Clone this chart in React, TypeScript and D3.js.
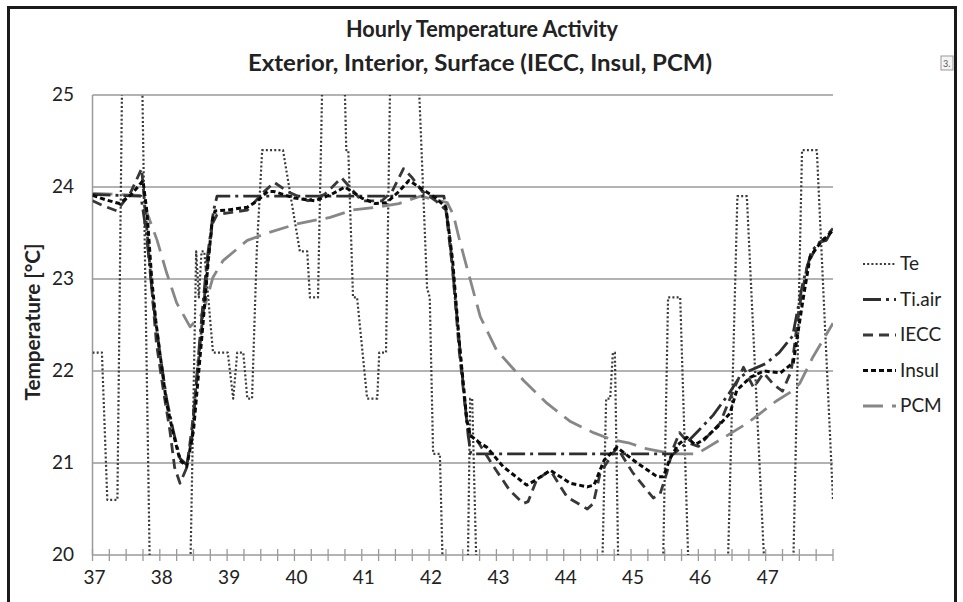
import React from 'react';
import * as d3 from 'd3';

// series names in legend order
const categories = ['Te', 'Ti.air', 'IECC', 'Insul', 'PCM'];
const xTickLabels = [37, 38, 39, 40, 41, 42, 43, 44, 45, 46, 47];
const yTickLabels = [20, 21, 22, 23, 24, 25];

// [day, temperature °C] (Te runs off the plot, clipped)
const te: [number, number][] = [
  [37.0, 22.2], [37.14, 22.2], [37.22, 20.6], [37.37, 20.6], [37.46, 26.5],
  [37.71, 26.5], [37.88, 18.5], [38.42, 18.5], [38.54, 23.3], [38.58, 22.8],
  [38.62, 23.3], [38.66, 23.3], [38.79, 22.2], [39.01, 22.2], [39.09, 21.7],
  [39.15, 22.2], [39.24, 22.2], [39.3, 21.7], [39.37, 21.7], [39.44, 23.3],
  [39.52, 24.4], [39.83, 24.4], [40.08, 23.3], [40.19, 23.3], [40.23, 22.8],
  [40.35, 22.8], [40.45, 26.5], [40.7, 26.5], [40.77, 24.4], [40.8, 24.4],
  [40.87, 22.8], [40.93, 22.8], [41.08, 21.7], [41.23, 21.7], [41.26, 22.2],
  [41.36, 22.2], [41.45, 26.5], [41.8, 26.0], [41.97, 22.9], [42.01, 22.8],
  [42.06, 21.1], [42.16, 21.1], [42.25, 18.5], [42.55, 18.5], [42.61, 21.7],
  [42.64, 21.7], [42.75, 18.5], [44.53, 18.5], [44.63, 21.7], [44.69, 21.7],
  [44.73, 22.2], [44.76, 22.2], [44.84, 18.5], [45.44, 18.5], [45.55, 22.8],
  [45.73, 22.8], [45.91, 18.5], [46.39, 18.5], [46.58, 23.9], [46.72, 23.9],
  [47.07, 18.5], [47.37, 18.5], [47.54, 24.4], [47.76, 24.4], [48.0, 20.6],
];

const tiAir: [number, number][] = [
  [37.0, 23.92], [37.72, 23.9], [37.8, 23.5], [37.9, 22.75], [38.0, 22.2],
  [38.1, 21.7], [38.2, 21.35], [38.3, 21.05], [38.4, 20.98], [38.48, 21.3],
  [38.6, 22.4], [38.7, 23.2], [38.8, 23.75], [38.85, 23.9], [42.22, 23.9],
  [42.3, 23.5], [42.4, 22.7], [42.5, 21.9], [42.58, 21.3], [42.62, 21.1],
  [45.63, 21.1], [45.8, 21.2], [46.0, 21.35], [46.22, 21.52], [46.45, 21.75],
  [46.6, 21.92], [46.75, 22.0], [47.0, 22.08], [47.2, 22.2], [47.4, 22.38],
  [47.55, 22.95], [47.68, 23.3], [47.8, 23.4], [47.9, 23.42], [48.0, 23.55],
];

const iecc: [number, number][] = [
  [37.0, 23.85], [37.15, 23.8], [37.36, 23.74], [37.56, 23.93], [37.73, 24.2],
  [37.8, 23.6], [37.88, 22.9], [37.95, 22.3], [38.05, 21.8], [38.15, 21.35],
  [38.22, 20.95], [38.3, 20.78], [38.4, 20.95], [38.48, 21.4], [38.6, 22.3],
  [38.7, 23.1], [38.78, 23.6], [38.85, 23.7], [39.3, 23.75], [39.55, 23.95],
  [39.7, 24.05], [39.9, 23.95], [40.2, 23.85], [40.45, 23.92], [40.7, 24.1],
  [41.0, 23.85], [41.3, 23.85], [41.45, 23.95], [41.62, 24.2], [41.75, 24.1],
  [41.9, 23.95], [42.1, 23.85], [42.25, 23.75], [42.35, 23.1], [42.45, 22.2],
  [42.56, 21.45], [42.61, 21.3], [42.71, 21.25], [42.96, 20.96], [43.2, 20.7],
  [43.4, 20.56], [43.47, 20.58], [43.6, 20.82], [43.8, 20.92], [44.05, 20.63],
  [44.35, 20.5], [44.44, 20.56], [44.54, 20.89], [44.79, 21.17], [45.03, 20.89],
  [45.33, 20.62], [45.43, 20.66], [45.53, 20.89], [45.62, 21.15], [45.72, 21.33],
  [45.85, 21.22], [46.0, 21.18], [46.15, 21.3], [46.32, 21.43], [46.52, 21.79],
  [46.67, 22.04], [46.82, 21.82], [46.97, 21.98], [47.12, 21.85], [47.25, 21.78],
  [47.38, 22.0], [47.5, 22.7], [47.62, 23.15], [47.75, 23.35], [47.88, 23.45],
  [48.0, 23.55],
];

const insul: [number, number][] = [
  [37.0, 23.91], [37.2, 23.86], [37.4, 23.82], [37.58, 23.92], [37.75, 24.07],
  [37.81, 23.72], [37.88, 23.0], [37.94, 22.55], [38.0, 22.2], [38.1, 21.65],
  [38.2, 21.32], [38.3, 21.03], [38.4, 20.96], [38.5, 21.35], [38.64, 22.5],
  [38.72, 23.2], [38.78, 23.64], [38.82, 23.74], [39.0, 23.75], [39.3, 23.78],
  [39.45, 23.85], [39.6, 23.95], [39.7, 23.95], [40.0, 23.88], [40.3, 23.85],
  [40.55, 23.92], [40.75, 24.0], [41.0, 23.88], [41.2, 23.82], [41.37, 23.83],
  [41.55, 23.95], [41.7, 24.07], [41.85, 24.0], [42.1, 23.88], [42.25, 23.78],
  [42.35, 23.2], [42.45, 22.3], [42.56, 21.47], [42.61, 21.3], [42.75, 21.22],
  [42.86, 21.17], [43.1, 20.96], [43.45, 20.76], [43.55, 20.8], [43.8, 20.92],
  [44.1, 20.78], [44.35, 20.74], [44.45, 20.76], [44.6, 21.03], [44.79, 21.17],
  [45.09, 21.0], [45.39, 20.85], [45.48, 20.85], [45.58, 21.05], [45.7, 21.2],
  [45.83, 21.28], [45.95, 21.2], [46.07, 21.25], [46.28, 21.39], [46.47, 21.54],
  [46.57, 21.79], [46.77, 21.93], [46.97, 22.0], [47.22, 21.98], [47.41, 22.09],
  [47.56, 22.8], [47.66, 23.24], [47.81, 23.39], [48.0, 23.53],
];

const pcm: [number, number][] = [
  [37.0, 23.93], [37.7, 23.91], [37.81, 23.72], [37.96, 23.42], [38.1, 23.07],
  [38.25, 22.74], [38.45, 22.48], [38.64, 22.63], [38.79, 23.02], [38.94, 23.2],
  [39.3, 23.42], [39.6, 23.5], [40.04, 23.6], [40.53, 23.67], [40.87, 23.75],
  [41.22, 23.78], [41.55, 23.82], [41.87, 23.9], [42.27, 23.83], [42.36, 23.7],
  [42.46, 23.4], [42.56, 23.13], [42.76, 22.59], [43.0, 22.23], [43.4, 21.9],
  [43.75, 21.65], [44.1, 21.45], [44.44, 21.33], [44.73, 21.25], [44.96, 21.22],
  [45.2, 21.16], [45.47, 21.12], [45.6, 21.1], [45.98, 21.1], [46.32, 21.25],
  [46.72, 21.43], [47.17, 21.68], [47.41, 21.79], [47.51, 21.87], [47.7, 22.15],
  [48.0, 22.52],
];

const seriesData = [te, tiAir, iecc, insul, pcm];

const styles = [
  { color: '#3a3a3a', width: 2.2, dash: '2 2.2' },
  { color: '#2e2e2e', width: 2.8, dash: '18 5 3 5' },
  { color: '#383838', width: 2.8, dash: '10 6' },
  { color: '#0a0a0a', width: 3, dash: '5 3' },
  { color: '#878787', width: 2.8, dash: '20 9' },
];

const font = 'Lato, "Open Sans", sans-serif';

export default function App() {
  const left = 92.5, right = 833, top = 95, bottom = 555;

  const x = d3.scaleLinear().domain([37, 48]).range([left, right]);
  const y = d3.scaleLinear().domain([20, 25]).range([bottom, top]);

  const line = d3.line<[number, number]>()
    .x(d => x(d[0]))
    .y(d => y(d[1]));

  const minorTicks = d3.range(37, 48.001, 0.25);
  const drawOrder = [0, 4, 1, 2, 3];

  const legendX = 863, legendY0 = 264, legendStep = 35.5;

  return (
    <svg width={963} height={602} style={{ display: 'block', position: 'absolute', left: 0, top: 0 }}>
      <rect x={0} y={0} width={963} height={602} fill="#fff" />
      <defs>
        <clipPath id="plotClip">
          <rect x={left} y={top} width={right - left} height={bottom - top} />
        </clipPath>
      </defs>

      {/* chart frame */}
      <rect x={8.5} y={7.5} width={947} height={640} fill="none" stroke="#1a1a1a" strokeWidth={3} />
      <rect x={941} y={56} width={12} height={14} fill="#f4f4f4" stroke="#999" strokeWidth={1} />
      <text x={943} y={67} fontSize={9} fontFamily={font} fill="#555">3.</text>

      <text x={482} y={37} textAnchor="middle" fontFamily={font} fontWeight="bold" fontSize={22}
        fill="#222" textLength={272} lengthAdjust="spacingAndGlyphs">Hourly Temperature Activity</text>
      <text x={480} y={71} textAnchor="middle" fontFamily={font} fontWeight="bold" fontSize={22}
        fill="#222" textLength={464} lengthAdjust="spacingAndGlyphs">Exterior, Interior, Surface (IECC, Insul, PCM)</text>

      {/* gridlines */}
      {yTickLabels.filter(v => v > 20).map(v => (
        <line key={v} x1={left} x2={right} y1={y(v)} y2={y(v)} stroke="#9a9a9a" strokeWidth={1.5} />
      ))}
      <line x1={left} x2={left} y1={top} y2={bottom} stroke="#9a9a9a" strokeWidth={1.5} />
      <line x1={left} x2={right} y1={bottom} y2={bottom} stroke="#9a9a9a" strokeWidth={1.5} />
      {minorTicks.map(t => (
        <line key={t} x1={x(t)} x2={x(t)} y1={bottom - 6} y2={bottom + 6} stroke="#9a9a9a" strokeWidth={1.3} />
      ))}

      {yTickLabels.map(v => (
        <text key={v} x={74} y={y(v) + 6} textAnchor="end" fontFamily={font} fontSize={19} fill="#222">{v}</text>
      ))}
      {xTickLabels.map(v => (
        <text key={v} x={x(v) + 2} y={584} textAnchor="middle" fontFamily={font} fontSize={19} fill="#222">{v}</text>
      ))}
      <text transform={`translate(40,322) rotate(-90)`} textAnchor="middle" fontFamily={font}
        fontWeight="bold" fontSize={20} fill="#222" textLength={157} lengthAdjust="spacingAndGlyphs">Temperature [°C]</text>

      <g clipPath="url(#plotClip)">
        {drawOrder.map(i => (
          <path key={categories[i]} d={line(seriesData[i]) || ''} fill="none"
            stroke={styles[i].color} strokeWidth={styles[i].width} strokeDasharray={styles[i].dash}
            strokeLinejoin="round" />
        ))}
      </g>

      {categories.map((name, i) => {
        const ly = legendY0 + i * legendStep;
        return (
          <g key={name}>
            <line x1={legendX} x2={legendX + 33} y1={ly} y2={ly} stroke={styles[i].color}
              strokeWidth={styles[i].width} strokeDasharray={styles[i].dash} />
            <text x={legendX + 37} y={ly + 6} fontFamily={font} fontSize={19} fill="#222">{name}</text>
          </g>
        );
      })}
    </svg>
  );
}
